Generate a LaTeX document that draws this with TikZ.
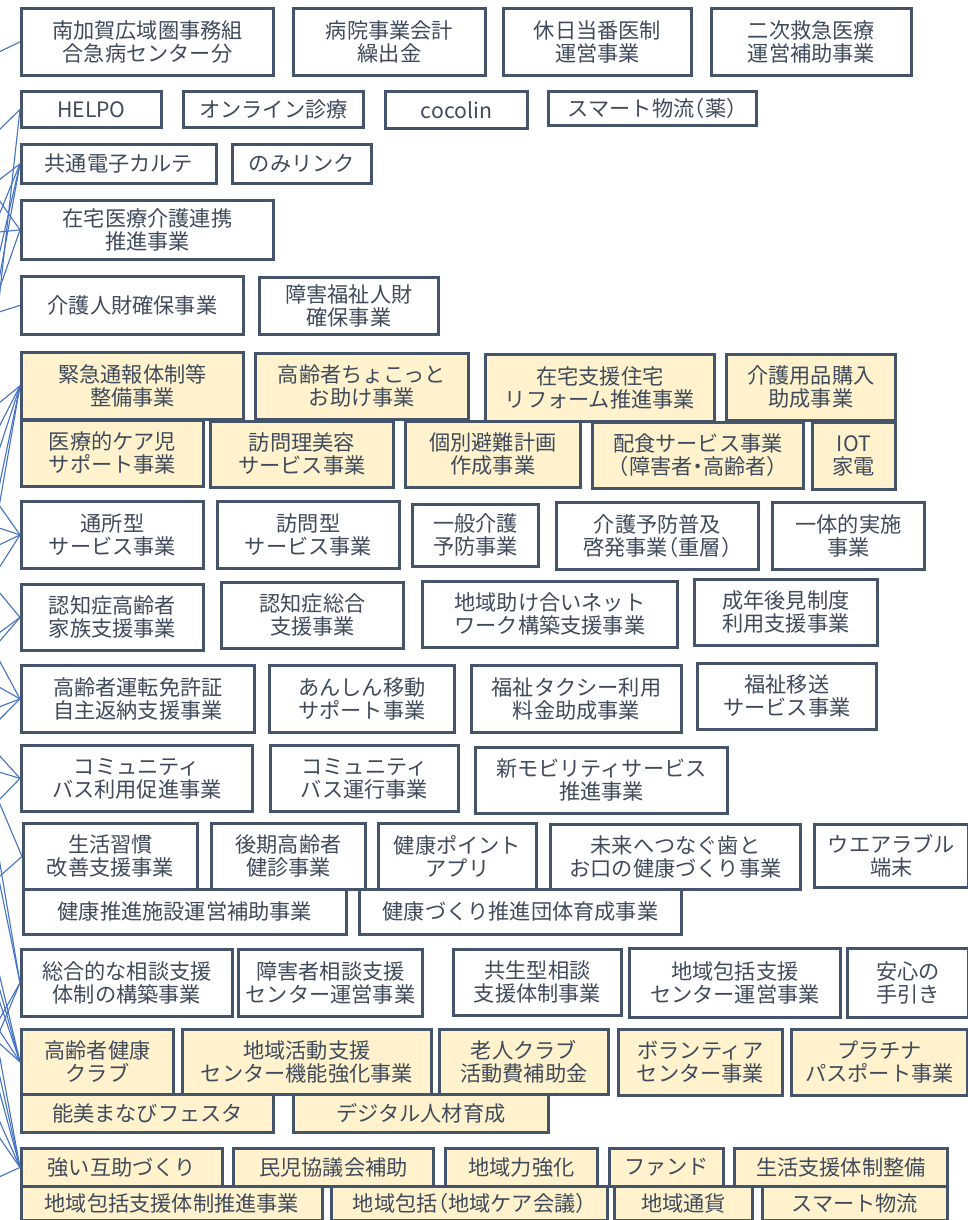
\documentclass[tikz,border=0pt]{standalone}
\usepackage{fontspec}
\newfontfamily\jp{Noto Sans CJK JP}
\newfontfamily\jph[RawFeature=+halt]{Noto Sans CJK JP}
\newcommand{\lp}{{\jph （}}
\newcommand{\rp}{{\jph ）}}
\newcommand{\nd}{{\jph ・}}
\definecolor{bd}{HTML}{44546A}
\definecolor{tx}{HTML}{3F4B5C}
\definecolor{yl}{HTML}{FFF2CC}
\definecolor{ln}{HTML}{4472C4}
\tikzset{
  wb/.style={draw=bd, line width=2.8pt, fill=white, text=tx, font=\jp\fontsize{21.2}{23}\selectfont, align=center, inner sep=0pt},
  yb/.style={wb, fill=yl},
  link/.style={draw=ln, line width=1.1pt}
}
\newcommand{\bbox}[7]{\node[#1, minimum width={(#5-#3)*1pt}, minimum height={(#6-#4)*1pt}, anchor=north west] (#2) at (#3,#4) {#7};}
\begin{document}
\begin{tikzpicture}[x=1pt,y=-1pt]
\useasboundingbox (0,0) rectangle (968,1220);
\fill[white] (0,0) rectangle (968,1220);
\clip (0,0) rectangle (968,1220);
% row 1
\bbox{wb}{a1}{20}{7}{272}{74}{南加賀広域圏事務組\\合急病センター分}
\bbox{wb}{a2}{292}{7}{484}{74}{病院事業会計\\繰出金}
\bbox{wb}{a3}{502}{7}{690}{74}{休日当番医制\\運営事業}
\bbox{wb}{a4}{710}{7}{910}{74}{二次救急医療\\運営補助事業}
% row 2
\bbox{wb}{b1}{20}{90}{160}{126}{HELPO}
\bbox{wb}{b2}{182}{90}{362}{126}{オンライン診療}
\bbox{wb}{b3}{384}{90}{526}{127}{cocolin}
\bbox{wb}{b4}{547}{90}{755}{124}{スマート物流\lp 薬\rp}
% row 3
\bbox{wb}{c1}{20}{143}{215}{182}{共通電子カルテ}
\bbox{wb}{c2}{231}{143}{370}{182}{のみリンク}
% row 4
\bbox{wb}{d1}{20}{199}{272}{258}{在宅医療介護連携\\推進事業}
% row 5
\bbox{wb}{e1}{20}{275}{242}{333}{介護人財確保事業}
\bbox{wb}{e2}{258}{276}{437}{333}{障害福祉人財\\確保事業}
% row 6
\bbox{yb}{f1}{20}{351}{242}{418}{緊急通報体制等\\整備事業}
\bbox{yb}{f2}{254}{352}{467}{418}{高齢者ちょこっと\\お助け事業}
\bbox{yb}{f3}{484}{353}{713}{420}{在宅支援住宅\\リフォーム推進事業}
\bbox{yb}{f4}{725}{353}{894}{419}{介護用品購入\\助成事業}
% row 7
\bbox{yb}{g1}{20}{419}{202}{485}{医療的ケア児\\サポート事業}
\bbox{yb}{g2}{209}{420}{392}{486}{訪問理美容\\サービス事業}
\bbox{yb}{g3}{404}{420}{579}{486}{個別避難計画\\作成事業}
\bbox{yb}{g4}{591}{421}{802}{487}{配食サービス事業\\\lp 障害者\nd 高齢者\rp}
\bbox{yb}{g5}{811}{421}{894}{488}{IOT\\家電}
% row 8
\bbox{wb}{h1}{20}{500}{202}{567}{通所型\\サービス事業}
\bbox{wb}{h2}{216}{500}{398}{567}{訪問型\\サービス事業}
\bbox{wb}{h3}{411}{503}{537}{565}{一般介護\\予防事業}
\bbox{wb}{h4}{555}{501}{757}{568}{介護予防普及\\啓発事業\lp 重層\rp}
\bbox{wb}{h5}{771}{501}{923}{568}{一体的実施\\事業}
% row 9
\bbox{wb}{i1}{20}{583}{202}{649}{認知症高齢者\\家族支援事業}
\bbox{wb}{i2}{220}{581}{402}{647}{認知症総合\\支援事業}
\bbox{wb}{i3}{421}{580}{676}{646}{地域助け合いネット\\ワーク構築支援事業}
\bbox{wb}{i4}{693}{578}{876}{644}{成年後見制度\\利用支援事業}
% row 10
\bbox{wb}{j1}{20}{664}{253}{731}{高齢者運転免許証\\自主返納支援事業}
\bbox{wb}{j2}{268}{664}{453}{731}{あんしん移動\\サポート事業}
\bbox{wb}{j3}{470}{664}{680}{731}{福祉タクシー利用\\料金助成事業}
\bbox{wb}{j4}{696}{662}{875}{728}{福祉移送\\サービス事業}
% row 11
\bbox{wb}{k1}{20}{744}{251}{810}{コミュニティ\\バス利用促進事業}
\bbox{wb}{k2}{269}{744}{457}{810}{コミュニティ\\バス運行事業}
\bbox{wb}{k3}{474}{746}{726}{812}{新モビリティサービス\\推進事業}
% row 12
\bbox{wb}{l1}{22}{822}{196}{888}{生活習慣\\改善支援事業}
\bbox{wb}{l2}{210}{822}{364}{888}{後期高齢者\\健診事業}
\bbox{wb}{l3}{377}{822}{535}{888}{健康ポイント\\アプリ}
\bbox{wb}{l4}{549}{823}{799}{888}{未来へつなぐ歯と\\お口の健康づくり事業}
\bbox{wb}{l5}{813}{823}{967}{886}{ウエアラブル\\端末}
\bbox{wb}{m1}{22}{888}{345}{933}{健康推進施設運営補助事業}
\bbox{wb}{m2}{358}{888}{680}{933}{健康づくり推進団体育成事業}
% row 13
\bbox{wb}{n1}{20}{948}{231}{1015}{総合的な相談支援\\体制の構築事業}
\bbox{wb}{n2}{237}{948}{421}{1015}{障害者相談支援\\センター運営事業}
\bbox{wb}{n3}{452}{948}{620}{1014}{共生型相談\\支援体制事業}
\bbox{wb}{n4}{628}{947}{839}{1016}{地域包括支援\\センター運営事業}
\bbox{wb}{n5}{846}{947}{967}{1016}{安心の\\手引き}
% row 14
\bbox{yb}{o1}{20}{1028}{172}{1093}{高齢者健康\\クラブ}
\bbox{yb}{o2}{181}{1028}{430}{1093}{地域活動支援\\センター機能強化事業}
\bbox{yb}{o3}{438}{1028}{607}{1093}{老人クラブ\\活動費補助金}
\bbox{yb}{o4}{617}{1028}{781}{1094}{ボランティア\\センター事業}
\bbox{yb}{o5}{790}{1028}{966}{1094}{プラチナ\\パスポート事業}
\bbox{yb}{p1}{20}{1093}{272}{1131}{能美まなびフェスタ}
\bbox{yb}{p2}{292}{1093}{547}{1131}{デジタル人材育成}
% row 15
\bbox{yb}{q1}{20}{1147}{221}{1185}{強い互助づくり}
\bbox{yb}{q2}{232}{1147}{432}{1185}{民児協議会補助}
\bbox{yb}{q3}{444}{1147}{596}{1185}{地域力強化}
\bbox{yb}{q4}{608}{1147}{722}{1185}{ファンド}
\bbox{yb}{q5}{733}{1147}{946}{1185}{生活支援体制整備}
\bbox{yb}{r1}{20}{1185}{321}{1219}{地域包括支援体制推進事業}
\bbox{yb}{r2}{330}{1185}{606}{1219}{地域包括\lp 地域ケア会議\rp}
\bbox{yb}{r3}{613}{1185}{751}{1219}{地域通貨}
\bbox{yb}{r4}{761}{1185}{946}{1219}{スマート物流}
% connectors from the left
\foreach \t/\ys in {a1/{52}, b1/{130,300}, c1/{180,215,255,280}, d1/{200,232,290}, e1/{312},
  f1/{403,427,450,487,507}, h1/{505,528,545,568}, i1/{592,633,642}, j1/{660,687,707,720},
  k1/{755,772,800}, l1/{802,877}, n1/{858,880,1020,1033}, o1/{973,987,1000,1030,1043},
  q1/{1053,1073,1090,1120,1137,1177}}{
  \foreach \y in \ys {
    \coordinate (s-\t-\y) at (-1,\y);
    \draw[link] (\t.west) -- (s-\t-\y);
  }
}
\end{tikzpicture}
\end{document}
